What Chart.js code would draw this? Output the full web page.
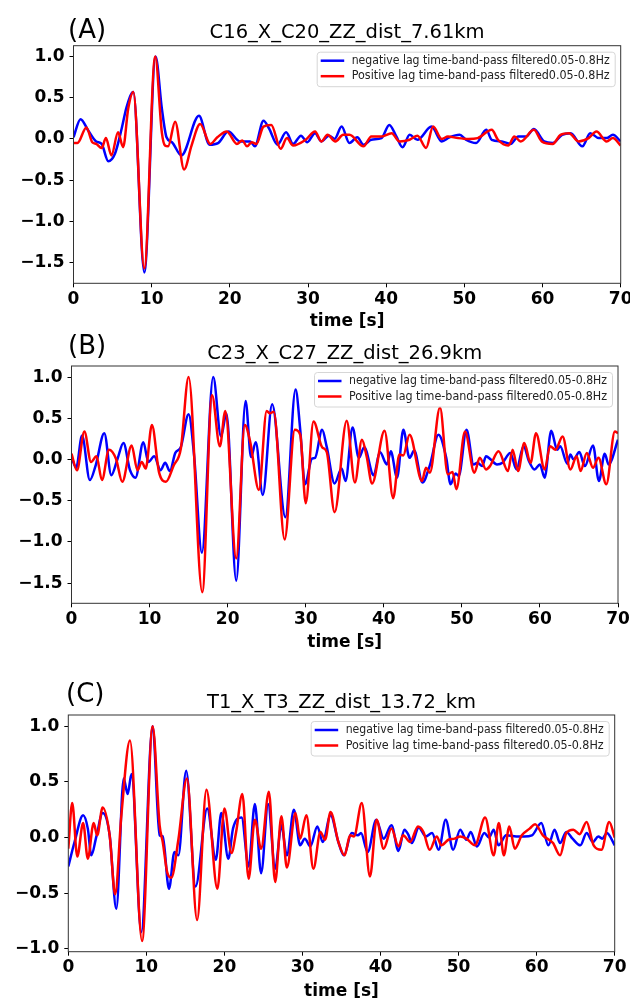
<!DOCTYPE html>
<html>
<head>
<meta charset="utf-8">
<script src="https://cdn.jsdelivr.net/npm/chart.js@4.4.1/dist/chart.umd.min.js"></script>
<style>
  html, body { margin: 0; padding: 0; background: #fff; overflow: hidden; }
  body { width: 630px; height: 1001px; position: relative; }
  canvas { position: absolute; left: 0; }
</style>
</head>
<body>
<canvas id="panelA" width="650" height="332" style="top:0px"></canvas>
<canvas id="panelB" width="650" height="334" style="top:320px"></canvas>
<canvas id="panelC" width="650" height="343" style="top:660px"></canvas>
<script>
// tick labels
const xTicks = [0, 10, 20, 30, 40, 50, 60, 70];
const yTicksAB = [-1.5, -1.0, -0.5, 0, 0.5, 1.0];
const yTicksC = [-1.0, -0.5, 0, 0.5, 1.0];

const seriesLabels = [
    'negative lag time-band-pass filtered0.05-0.8Hz',
    'Positive lag time-band-pass filtered0.05-0.8Hz'
];
const panelTitles = ['C16_X_C20_ZZ_dist_7.61km', 'C23_X_C27_ZZ_dist_26.9km', 'T1_X_T3_ZZ_dist_13.72_km'];
const panelTags = ['(A)', '(B)', '(C)'];

// [time s, amplitude] (peaks and troughs)
const negA = [[0,0.02],[0.9,0.24],[1.9,0.10],[2.9,-0.03],[3.6,-0.06],[4.45,-0.27],[5.3,-0.18],[6.15,0.12],[6.8,0.39],[7.65,0.57],[9.06,-1.62],[10.5,1.0],[11.3,0.37],[11.9,0.02],[12.6,-0.04],[13.8,-0.20],[16.05,0.28],[17.4,-0.07],[18.5,-0.05],[19.8,0.09],[21.3,-0.03],[22.6,-0.03],[23.2,-0.09],[24.3,0.22],[25.0,0.13],[26.1,-0.07],[27.2,0.08],[28.1,-0.06],[29.1,0.04],[29.9,-0.04],[30.9,0.07],[31.7,-0.03],[32.7,0.04],[33.4,0.0],[34.3,0.15],[35.3,-0.05],[36.3,0.02],[37.1,-0.07],[38.1,-0.01],[39.4,0.01],[40.4,0.17],[41.3,0.03],[42.1,-0.10],[43.0,0.05],[44.0,-0.01],[45.8,0.15],[47.1,-0.03],[48.1,0.02],[49.4,0.05],[50.2,-0.01],[51.5,-0.05],[52.8,0.11],[53.5,-0.01],[54.8,-0.03],[55.9,-0.06],[56.9,0.03],[57.9,0.03],[58.9,0.12],[60.2,-0.03],[61.3,-0.05],[62.5,0.05],[63.6,0.07],[65.1,-0.09],[66.1,0.07],[67.2,0.01],[68.2,0.01],[69.0,0.05],[70,-0.03]];
const posA = [[0,-0.05],[0.5,-0.05],[1.65,0.14],[2.4,-0.04],[2.9,-0.06],[3.6,-0.11],[4.15,0.01],[4.85,-0.20],[5.7,0.08],[6.35,-0.10],[7.0,0.37],[7.65,0.57],[9.06,-1.57],[10.45,1.0],[11.3,0.08],[11.7,-0.08],[12.1,-0.09],[13.0,0.21],[14.15,-0.37],[15.1,-0.08],[16.2,0.18],[17.5,-0.06],[18.4,0.02],[19.6,0.09],[20.9,-0.06],[21.6,-0.02],[22.2,-0.09],[22.8,-0.04],[23.4,-0.06],[24.3,0.15],[25.3,0.17],[26.5,-0.12],[27.3,0.01],[28.1,-0.08],[29.7,-0.01],[30.9,0.09],[31.7,-0.03],[32.5,0.05],[33.5,-0.03],[34.5,0.05],[35.3,0.05],[37.1,-0.09],[38.1,0.03],[39.4,0.03],[40.7,0.07],[41.7,-0.03],[43.0,-0.01],[44.0,0.04],[45.1,-0.11],[46.0,0.15],[47.1,0.0],[47.9,0.03],[49.2,0.01],[50.5,0.0],[51.7,0.01],[53.5,0.11],[54.3,-0.01],[55.6,-0.08],[56.4,0.03],[57.2,-0.03],[58.9,0.11],[59.9,-0.03],[61.3,-0.06],[62.3,0.05],[63.4,0.07],[64.6,-0.03],[65.9,0.01],[66.9,0.09],[68.2,-0.03],[69.0,0.01],[70,-0.08]];

const negB = [[0,0.03],[0.6,-0.10],[1.35,0.29],[2.35,-0.25],[3.1,-0.07],[4.2,0.32],[5.1,-0.19],[5.9,0.01],[6.65,0.20],[7.5,-0.13],[8.2,-0.22],[9.2,0.21],[9.85,-0.03],[10.6,0.04],[11.4,-0.13],[12.0,-0.04],[12.6,-0.14],[13.3,0.08],[14.0,0.15],[15.0,0.55],[15.7,0.05],[16.7,-1.13],[18.15,1.0],[19.15,0.28],[19.85,0.56],[21.1,-1.47],[22.3,0.71],[23.0,0.03],[23.6,0.21],[24.5,-0.43],[25.7,0.67],[27.4,-0.70],[28.7,0.85],[29.3,0.36],[29.9,-0.30],[30.8,0.01],[31.2,0.02],[32.1,0.36],[32.7,0.15],[33.7,-0.29],[34.6,-0.11],[35.1,-0.26],[36.0,0.39],[36.8,0.02],[37.5,0.15],[38.7,-0.19],[39.5,0.09],[40.4,-0.06],[40.9,0.10],[41.7,-0.22],[42.5,0.36],[43.3,0.02],[43.9,0.11],[44.95,-0.28],[45.9,-0.07],[47.0,0.30],[48.0,0.02],[48.55,-0.30],[49.2,-0.17],[49.6,-0.20],[50.6,0.36],[51.5,-0.06],[52.0,-0.04],[52.6,-0.08],[53.1,0.04],[53.7,0.0],[54.5,-0.06],[55.2,-0.04],[56.2,0.08],[57.0,-0.12],[57.9,0.16],[58.6,-0.02],[59.3,-0.12],[60.0,-0.06],[60.6,-0.22],[61.45,0.35],[62.2,0.12],[62.6,0.16],[63.5,-0.05],[63.9,0.06],[64.3,0.0],[65.05,0.09],[65.75,-0.08],[66.8,0.17],[67.55,-0.26],[68.3,0.07],[68.8,-0.06],[70,0.24]];
const posB = [[0,0.07],[0.7,-0.13],[1.65,0.34],[2.5,-0.03],[3.2,0.04],[3.9,-0.25],[4.8,0.12],[5.7,0.01],[6.5,-0.27],[7.7,0.17],[8.45,-0.13],[9.0,-0.03],[9.5,-0.11],[10.3,0.42],[11.2,-0.15],[12.1,-0.27],[13.1,-0.07],[14.0,0.13],[15.0,1.0],[16.75,-1.61],[18.0,0.78],[19.0,0.16],[19.7,0.59],[21.1,-1.20],[22.2,0.42],[22.9,0.21],[24.0,-0.37],[25.0,0.59],[25.4,0.56],[25.9,0.58],[27.3,-0.97],[28.6,0.36],[29.3,0.30],[30.0,-0.53],[31.0,0.46],[32.1,0.15],[32.7,0.09],[33.7,-0.64],[35.25,0.47],[36.3,-0.28],[37.2,0.24],[37.8,0.04],[38.5,-0.29],[40.1,0.35],[41.2,-0.47],[42.0,0.06],[42.5,0.05],[43.3,0.30],[44.9,-0.26],[45.4,-0.10],[45.9,-0.16],[47.2,0.63],[48.2,-0.18],[48.8,-0.15],[49.3,-0.36],[50.4,0.34],[51.6,-0.16],[52.3,0.02],[53.1,-0.12],[53.6,-0.08],[54.7,0.10],[55.9,-0.14],[56.5,0.12],[57.2,-0.14],[58.0,0.20],[58.8,-0.04],[59.5,0.32],[60.6,-0.12],[61.3,0.16],[62.0,0.12],[62.9,0.28],[63.9,-0.12],[64.7,0.04],[65.2,-0.14],[66.0,0.08],[66.8,-0.10],[67.5,0.02],[68.5,-0.30],[69.6,0.34],[70,0.32]];

const negC = [[0,-0.26],[0.8,-0.04],[1.9,0.20],[2.5,0.08],[2.95,-0.16],[3.6,0.01],[4.4,0.22],[5.3,0.02],[6.15,-0.64],[7.1,0.53],[7.6,0.39],[8.1,0.57],[9.35,-0.85],[10.8,1.0],[11.7,0.02],[12.1,0.01],[12.9,-0.46],[13.6,-0.13],[14.1,-0.16],[15.1,0.60],[16.3,-0.44],[17.8,0.26],[18.9,-0.20],[19.6,0.22],[20.5,-0.19],[21.1,0.08],[22.2,0.18],[23.1,-0.26],[23.9,0.30],[24.7,-0.32],[25.6,0.30],[26.5,-0.28],[27.3,0.11],[28.0,-0.16],[28.9,0.25],[29.7,-0.07],[30.3,-0.01],[31.0,-0.08],[31.9,0.10],[32.6,-0.04],[33.6,0.20],[34.6,-0.04],[35.3,-0.16],[36.3,0.04],[37.1,0.02],[37.5,0.04],[38.35,-0.13],[39.45,0.16],[40.4,-0.01],[41.4,0.11],[42.3,-0.12],[43.05,0.07],[43.6,0.02],[44.0,-0.05],[44.9,0.09],[45.8,0.01],[46.6,0.04],[47.45,-0.11],[48.35,0.16],[49.3,-0.11],[50.2,0.07],[51.0,-0.02],[51.55,0.05],[52.35,-0.08],[53.3,0.04],[53.9,0.0],[54.5,0.07],[55.1,-0.07],[56.1,0.02],[57.4,0.01],[58.4,0.01],[59.4,0.02],[60.6,0.13],[61.5,-0.07],[62.3,0.07],[63.0,-0.05],[63.8,0.05],[64.6,-0.01],[65.6,-0.07],[66.4,0.04],[67.2,-0.04],[67.9,0.01],[68.4,-0.01],[69.0,0.04],[70,-0.07]];
const posC = [[0,-0.10],[0.5,0.31],[1.15,-0.17],[1.9,0.13],[2.5,-0.19],[3.25,0.13],[3.7,0.02],[4.4,0.27],[5.3,0.02],[6.0,-0.51],[6.8,0.2],[7.9,0.87],[9.45,-0.93],[10.8,1.0],[11.7,0.11],[12.1,-0.04],[12.7,-0.32],[13.2,-0.36],[14.1,-0.02],[15.2,0.53],[16.5,-0.74],[17.7,0.43],[19.1,-0.46],[20.0,0.26],[20.9,-0.14],[21.5,0.05],[22.3,0.39],[23.1,-0.37],[23.9,0.16],[24.7,-0.10],[25.7,0.41],[26.5,-0.40],[27.3,0.19],[28.0,-0.27],[29.1,0.22],[29.7,-0.01],[30.5,0.20],[31.4,-0.28],[32.3,0.05],[32.9,-0.02],[33.6,0.23],[34.6,-0.04],[35.4,-0.16],[36.1,0.02],[36.6,0.01],[37.6,0.31],[38.65,-0.35],[39.5,0.16],[40.4,-0.10],[41.4,0.08],[42.3,-0.08],[42.9,0.02],[43.8,-0.04],[44.8,0.10],[45.5,0.05],[46.3,-0.11],[47.2,0.01],[47.8,-0.07],[48.7,-0.02],[49.5,-0.01],[50.2,0.01],[51.0,-0.01],[52.1,-0.07],[53.4,0.18],[54.5,-0.16],[55.15,0.13],[55.8,-0.16],[56.5,0.10],[57.2,-0.10],[58.1,0.02],[59.1,0.08],[59.8,0.12],[60.8,0.02],[62.1,-0.05],[63.0,-0.16],[63.8,0.04],[64.7,0.07],[65.5,0.03],[66.4,0.14],[67.3,-0.07],[68.3,-0.11],[69.3,0.14],[70,0.0]];

// layout of each panel, in canvas pixels
const panels = [
    { id: 'panelA', neg: negA, pos: posA, yTicks: yTicksAB, yMin: -1.751, yMax: 1.131,
      area: { left: 73.5, right: 620.7, top: 45.7, bottom: 283.3 }, tagX: 68, tagY: 31, titleY: 33, xTitleY: 322 },
    { id: 'panelB', neg: negB, pos: posB, yTicks: yTicksAB, yMin: -1.745, yMax: 1.135,
      area: { left: 71.5, right: 618, top: 46, bottom: 283.3 }, tagX: 68, tagY: 27, titleY: 34, xTitleY: 323 },
    { id: 'panelC', neg: negC, pos: posC, yTicks: yTicksC, yMin: -1.025, yMax: 1.1,
      area: { left: 68.3, right: 614.7, top: 55, bottom: 291.7 }, tagX: 66, tagY: 35, titleY: 43, xTitleY: 332 }
];

const FONT = '"DejaVu Sans", sans-serif';
const minus = (s) => s.replace('-', '\u2212');

const decorations = {
    id: 'decorations',
    afterDraw(chart, args, opts) {
        const { ctx, chartArea: a } = chart;
        ctx.save();

        // frame
        ctx.strokeStyle = '#333';
        ctx.lineWidth = 1;
        ctx.strokeRect(a.left, a.top, a.right - a.left, a.bottom - a.top);

        // legend in the upper right corner
        const bw = 298, bh = 34.5;
        const bx = a.right - 5.5 - bw, by = a.top + 6.5;
        ctx.beginPath();
        ctx.roundRect(bx, by, bw, bh, 3);
        ctx.fillStyle = 'rgba(255,255,255,0.8)';
        ctx.fill();
        ctx.strokeStyle = '#d6d6d6';
        ctx.stroke();
        chart.data.datasets.forEach((ds, i) => {
            const ly = by + 8.5 + i * 15.5;
            ctx.beginPath();
            ctx.moveTo(bx + 3.5, ly);
            ctx.lineTo(bx + 27, ly);
            ctx.strokeStyle = ds.borderColor;
            ctx.lineWidth = 2.5;
            ctx.stroke();
            ctx.fillStyle = '#222';
            ctx.font = '12px ' + FONT;
            ctx.textAlign = 'left';
            ctx.textBaseline = 'middle';
            ctx.fillText(ds.label, bx + 34.5, ly, 258);
        });

        // panel tag and title
        ctx.fillStyle = '#000';
        ctx.textBaseline = 'middle';
        ctx.font = '26px ' + FONT;
        ctx.textAlign = 'left';
        ctx.fillText(opts.tag, opts.tagX, opts.tagY);
        ctx.font = '19.5px ' + FONT;
        ctx.textAlign = 'center';
        ctx.fillText(opts.title, (a.left + a.right) / 2, opts.titleY);
        ctx.restore();
    }
};

panels.forEach((p, k) => {
    const canvas = document.getElementById(p.id);
    const W = canvas.width, H = canvas.height;
    const tickFont = { family: FONT, size: 17, weight: 'bold' };

    new Chart(canvas, {
        type: 'line',
        data: {
            datasets: [
                {
                    label: seriesLabels[0],
                    data: p.neg.map(([x, y]) => ({ x, y })),
                    borderColor: '#0000ff',
                    order: 1
                },
                {
                    label: seriesLabels[1],
                    data: p.pos.map(([x, y]) => ({ x, y })),
                    borderColor: '#ff0000',
                    order: 0
                }
            ]
        },
        options: {
            responsive: false,
            animation: false,
            devicePixelRatio: 1,
            layout: { padding: { left: 0, top: p.area.top, right: W - p.area.right, bottom: 0 } },
            elements: {
                line: { borderWidth: 2.5, cubicInterpolationMode: 'monotone', fill: false },
                point: { radius: 0 }
            },
            scales: {
                x: {
                    type: 'linear',
                    min: 0,
                    max: 70,
                    afterBuildTicks: (scale) => { scale.ticks = xTicks.map(v => ({ value: v })); },
                    afterFit: (scale) => { scale.height = H - p.area.bottom; },
                    grid: { drawOnChartArea: false, drawTicks: true, tickLength: 4, color: '#000' },
                    border: { display: false },
                    ticks: { font: tickFont, color: '#000', padding: 2, maxRotation: 0, callback: (v) => String(v) },
                    title: {
                        display: true, text: 'time [s]', font: tickFont, color: '#000',
                        padding: { top: 0, bottom: H - p.xTitleY - 10.2 }
                    }
                },
                y: {
                    type: 'linear',
                    min: p.yMin,
                    max: p.yMax,
                    afterBuildTicks: (scale) => { scale.ticks = p.yTicks.map(v => ({ value: v })); },
                    afterFit: (scale) => { scale.width = p.area.left; },
                    grid: { drawOnChartArea: false, drawTicks: true, tickLength: 4, color: '#000' },
                    border: { display: false },
                    ticks: { font: tickFont, color: '#000', padding: 5, callback: (v) => minus(v.toFixed(1)) }
                }
            },
            plugins: {
                legend: { display: false },
                tooltip: { enabled: false },
                decorations: { tag: panelTags[k], title: panelTitles[k], tagX: p.tagX, tagY: p.tagY, titleY: p.titleY }
            }
        },
        plugins: [decorations]
    });
});
</script>
</body>
</html>
